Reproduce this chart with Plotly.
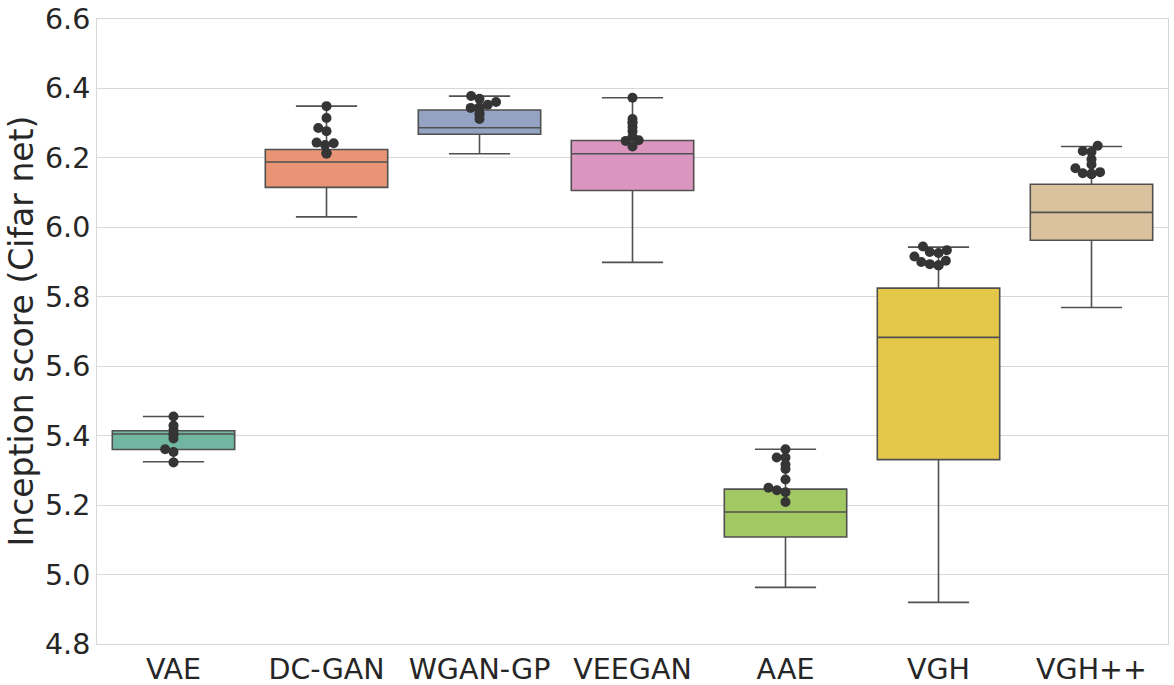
import numpy as np
import plotly.graph_objects as go

categories = ["VAE", "DC-GAN", "WGAN-GP", "VEEGAN", "AAE", "VGH", "VGH++"]
q1 = [5.360, 6.115, 6.268, 6.106, 5.108, 5.331, 5.963]
median = [5.405, 6.188, 6.287, 6.212, 5.180, 5.683, 6.043]
q3 = [5.414, 6.224, 6.338, 6.250, 5.246, 5.825, 6.124]
lowerfence = [5.325, 6.030, 6.212, 5.899, 4.963, 4.920, 5.769]
upperfence = [5.455, 6.349, 6.378, 6.373, 5.361, 5.943, 6.233]

points = {
    "VAE": [5.455, 5.429, 5.416, 5.404, 5.405, 5.392, 5.361, 5.353, 5.323],
    "DC-GAN": [6.349, 6.315, 6.286, 6.277, 6.242, 6.237, 6.244, 6.214, 6.212, 6.214],
    "WGAN-GP": [6.370, 6.378, 6.361, 6.353, 6.344, 6.344, 6.346, 6.324, 6.329, 6.312],
    "VEEGAN": [6.373, 6.312, 6.289, 6.301, 6.301, 6.277, 6.249, 6.251, 6.261, 6.233],
    "AAE": [5.361, 5.337, 5.337, 5.317, 5.304, 5.274, 5.243, 5.237, 5.250, 5.209],
    "VGH": [5.945, 5.934, 5.929, 5.926, 5.916, 5.900, 5.891, 5.890, 5.894, 5.904],
    "VGH++": [6.235, 6.220, 6.217, 6.196, 6.181, 6.170, 6.159, 6.154, 6.153, 6.156],
}

colors = ["#71b6a1", "#e99575", "#95a3c3", "#db96c0", "#a2c864", "#e5c849", "#dbc29e"]

W, H = 1174, 685
ML, MR, MT, MB = 97, 6, 19, 41
YMIN, YMAX = 4.8, 6.6
px_per_x = (W - ML - MR) / 7.0
px_per_y = (H - MT - MB) / (YMAX - YMIN)
DIAM = 8.8


def swarm_offsets(vals):
    ys = np.asarray(vals) * px_per_y
    order = np.argsort(ys)
    placed = []  # (x, y) in px
    xs = np.zeros(len(vals))
    for i in order:
        y = ys[i]
        cands = [0.0]
        for (px, py) in placed:
            dy = abs(y - py)
            if dy < DIAM:
                dx = np.sqrt(DIAM ** 2 - dy ** 2)
                cands += [px + dx, px - dx]
        cands = sorted(set(round(c, 6) for c in cands), key=lambda c: (abs(c), c))
        for c in cands:
            ok = all((c - px) ** 2 + (y - py) ** 2 >= DIAM ** 2 - 1e-6 for (px, py) in placed)
            if ok:
                xs[i] = c
                placed.append((c, y))
                break
    return xs / px_per_x


fig = go.Figure()
for i, cat in enumerate(categories):
    fig.add_trace(go.Box(
        x=[i], q1=[q1[i]], median=[median[i]], q3=[q3[i]],
        lowerfence=[lowerfence[i]], upperfence=[upperfence[i]],
        width=0.8, whiskerwidth=0.5, boxpoints=False,
        fillcolor=colors[i], line=dict(color="#505050", width=1.6),
        showlegend=False, hoverinfo="skip",
    ))

for i, cat in enumerate(categories):
    vals = points[cat]
    offs = swarm_offsets(vals)
    fig.add_trace(go.Scatter(
        x=i + offs, y=vals, mode="markers",
        marker=dict(color="#353535", size=10, line=dict(width=0)),
        showlegend=False, hoverinfo="skip",
    ))

fig.update_layout(
    width=W, height=H,
    margin=dict(l=ML, r=MR, t=MT, b=MB),
    plot_bgcolor="white", paper_bgcolor="white",
    font=dict(family="DejaVu Sans", color="#262626"),
    boxmode="overlay",
    annotations=[dict(
        text="Inception score (Cifar net)", textangle=-90,
        xref="paper", yref="paper", x=0, y=0.5, xanchor="center", yanchor="middle",
        xshift=-(ML - 21), showarrow=False, font=dict(size=33, color="#262626"),
    )],
)
fig.update_xaxes(
    range=[-0.5, 6.5], tickmode="array", tickvals=list(range(7)), ticktext=categories,
    tickfont=dict(size=28.5), showgrid=False, zeroline=False, automargin=False,
    showline=True, mirror=True, linecolor="#d8d8d8", linewidth=1, ticks="",
    ticklabeloverflow="allow",
)
fig.update_yaxes(
    range=[YMIN, YMAX], tickmode="array", tickvals=[4.8 + 0.2 * k for k in range(10)],
    ticktext=[f"{4.8 + 0.2 * k:.1f}" for k in range(10)],
    tickfont=dict(size=28.5), showgrid=True, gridcolor="#d8d8d8", gridwidth=1, zeroline=False,
    showline=True, mirror=True, linecolor="#d8d8d8", linewidth=1, ticks="", automargin=False,
    ticklabeloverflow="allow",
)

fig.write_html("out.html", config={"displayModeBar": False},
               post_script="document.body.style.margin='0px';")
